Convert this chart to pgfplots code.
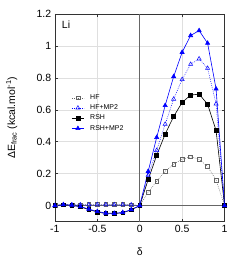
\documentclass[border=0pt]{standalone}
\usepackage{fontspec}
\setmainfont{Liberation Sans}
\usepackage{pgfplots}
\pgfplotsset{compat=1.18}
\definecolor{hfgray}{RGB}{100,100,100}
\definecolor{myblue}{RGB}{0,0,255}
\begin{document}
\fontsize{10.5bp}{12bp}\selectfont
\begin{tikzpicture}
\begin{axis}[
  scale only axis,
  width=170bp, height=208bp,
  xmin=-1, xmax=1, ymin=-0.1, ymax=1.2,
  xtick={-1,-0.5,0,0.5,1},
  ytick={0,0.2,0.4,0.6,0.8,1,1.2},
  /pgf/number format/assume math mode=true,
  tick label style={font=\fontsize{10.5bp}{12bp}\selectfont},
  grid=major,
  grid style={gray!25, line width=0.5bp},
  axis line style={black!80, line width=0.6bp},
  tick style={black!80, line width=0.5bp},
  major tick length=3bp,
  tick align=inside,
  xlabel={δ},
  ylabel={ΔE\textsubscript{frac} (kcal.mol\textsuperscript{-1})},
  label style={font=\fontsize{10.5bp}{12bp}\selectfont},
  xlabel style={at={(axis description cs:0.5,-0.145)}, anchor=center},
  ylabel style={at={(axis description cs:-0.255,0.5)}, anchor=center},
  legend style={draw=none, fill=none, at={(axis cs:-0.84,0.715)}, anchor=north west,
    font=\fontsize{7bp}{8bp}\selectfont, row sep=1.8bp, column sep=5bp,
    nodes={inner xsep=1bp, inner ysep=1bp}},
  legend cell align=left,
  legend image code/.code={
    \draw[mark repeat=2,mark phase=2] plot coordinates {(0bp,0bp) (6bp,0bp) (12bp,0bp)};
  },
]
\addplot[black!60, line width=0.6bp, forget plot] coordinates {(0,-0.1) (0,1.2)};
\addplot[black!60, line width=0.6bp, forget plot] coordinates {(-1,0) (1,0)};

\addplot[hfgray, line width=0.5bp, dash pattern=on 0.8bp off 1.2bp, mark=square, mark size=1.9bp, mark options={solid}] coordinates {
(-1,0) (-0.9,0.005) (-0.8,0.005) (-0.7,0.005) (-0.6,0.006) (-0.5,0.006) (-0.4,0.006) (-0.3,0.006) (-0.2,0.006) (-0.1,0.005) (0,0)
(0.1,0.083) (0.2,0.152) (0.3,0.215) (0.4,0.26) (0.5,0.29) (0.6,0.306) (0.7,0.29) (0.8,0.245) (0.9,0.16) (1,0)};
\addlegendentry{HF}
\addplot[myblue, line width=0.5bp, dash pattern=on 0.8bp off 1.2bp, mark=triangle, mark size=2.4bp, mark options={solid}] coordinates {
(-1,0) (-0.9,0.005) (-0.8,0.005) (-0.7,0.005) (-0.6,0.005) (-0.5,0.005) (-0.4,0.005) (-0.3,0.005) (-0.2,0.005) (-0.1,0.005) (0,0)
(0.1,0.19) (0.2,0.346) (0.3,0.51) (0.4,0.667) (0.5,0.79) (0.6,0.885) (0.7,0.919) (0.8,0.86) (0.9,0.637) (1,0)};
\addlegendentry{HF+MP2}
\addplot[black, line width=0.6bp, mark=square*, mark size=1.9bp] coordinates {
(-1,0) (-0.9,0.005) (-0.8,0.002) (-0.7,-0.008) (-0.6,-0.025) (-0.5,-0.04) (-0.4,-0.05) (-0.3,-0.05) (-0.2,-0.045) (-0.1,-0.027) (0,0)
(0.1,0.163) (0.2,0.315) (0.3,0.448) (0.4,0.558) (0.5,0.646) (0.6,0.692) (0.7,0.698) (0.8,0.635) (0.9,0.47) (1,0)};
\addlegendentry{RSH}
\addplot[myblue, line width=0.6bp, mark=triangle*, mark size=2.4bp] coordinates {
(-1,0) (-0.9,0.006) (-0.8,0.003) (-0.7,-0.006) (-0.6,-0.022) (-0.5,-0.037) (-0.4,-0.047) (-0.3,-0.048) (-0.2,-0.043) (-0.1,-0.025) (0,0)
(0.1,0.215) (0.2,0.427) (0.3,0.627) (0.4,0.808) (0.5,0.96) (0.6,1.065) (0.7,1.096) (0.8,1.017) (0.9,0.731) (1,0)};
\addlegendentry{RSH+MP2}
\node[anchor=north west, font=\fontsize{10.5bp}{12bp}\selectfont] at (rel axis cs:0.02,0.985) {Li};
\end{axis}
\path (current axis.south west) +(-55bp,-37bp) (current axis.north east) +(19bp,14bp);
\end{tikzpicture}
\end{document}
